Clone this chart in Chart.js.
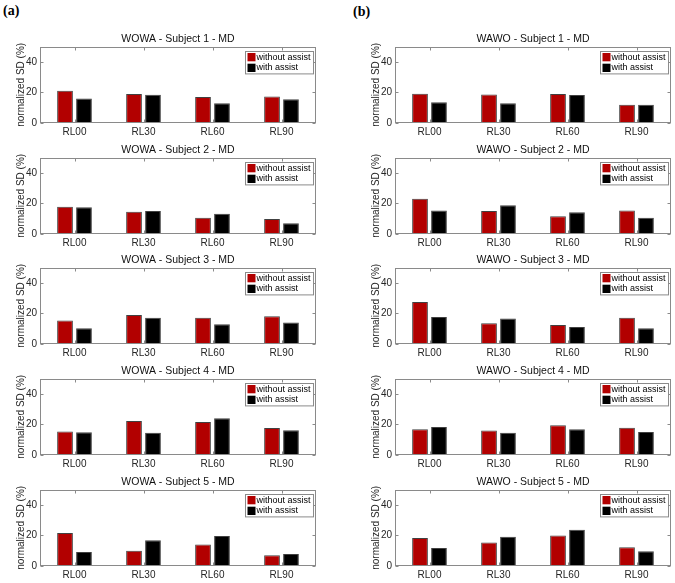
<!DOCTYPE html>
<html><head><meta charset="utf-8">
<script src="https://cdn.jsdelivr.net/npm/chart.js@4.4.1/dist/chart.umd.min.js"></script>
<style>
html,body{margin:0;padding:0;background:#fff;}
#wrap{position:relative;width:675px;height:583px;overflow:hidden;background:#fff;}
.panel{position:absolute;}
.tag{position:absolute;font-family:"Liberation Serif","DejaVu Serif",serif;font-weight:bold;font-size:14px;line-height:14px;color:#000;}
</style></head><body><div id="wrap">
<div class="tag" style="left:3px;top:4px">(a)</div>
<div class="tag" style="left:353px;top:5px">(b)</div>
</div>
<script>
const categories = ['RL00','RL30','RL60','RL90'];
const seriesNames = ['without assist','with assist'];
const yTickValues = [0,20,40];
const yAxisTitle = 'normalized SD (%)';

const wowa1Without = [21.1, 18.9, 17.0, 17.4];
const wowa1With    = [16.1, 18.5, 13.0, 15.6];
const wowa2Without = [17.9, 14.6, 10.7, 9.8];
const wowa2With    = [17.5, 15.0, 13.3, 7.0];
const wowa3Without = [15.4, 18.9, 17.1, 18.2];
const wowa3With    = [10.3, 17.1, 13.0, 14.1];
const wowa4Without = [15.3, 22.3, 21.6, 17.7];
const wowa4With    = [14.9, 14.6, 24.0, 16.2];
const wowa5Without = [21.6, 10.0, 14.0, 7.0];
const wowa5With    = [9.2, 16.8, 19.7, 7.9];

const wawo1Without = [19.1, 18.7, 19.0, 12.0];
const wawo1With    = [13.5, 13.0, 18.3, 12.0];
const wawo2Without = [23.0, 15.1, 11.6, 15.3];
const wawo2With    = [15.3, 18.8, 14.2, 10.7];
const wawo3Without = [27.5, 13.6, 12.5, 17.1];
const wawo3With    = [17.6, 16.7, 11.2, 10.3];
const wawo4Without = [16.8, 16.0, 19.5, 17.9];
const wawo4With    = [18.4, 14.6, 16.8, 15.1];
const wawo5Without = [18.4, 15.3, 19.9, 12.2];
const wawo5With    = [11.8, 19.2, 23.8, 9.6];

const wowaTitles = ['WOWA - Subject 1 - MD','WOWA - Subject 2 - MD','WOWA - Subject 3 - MD','WOWA - Subject 4 - MD','WOWA - Subject 5 - MD'];
const wawoTitles = ['WAWO - Subject 1 - MD','WAWO - Subject 2 - MD','WAWO - Subject 3 - MD','WAWO - Subject 4 - MD','WAWO - Subject 5 - MD'];

const panels = [
  {col:0,row:0,title:wowaTitles[0],a:wowa1Without,b:wowa1With},
  {col:0,row:1,title:wowaTitles[1],a:wowa2Without,b:wowa2With},
  {col:0,row:2,title:wowaTitles[2],a:wowa3Without,b:wowa3With},
  {col:0,row:3,title:wowaTitles[3],a:wowa4Without,b:wowa4With},
  {col:0,row:4,title:wowaTitles[4],a:wowa5Without,b:wowa5With},
  {col:1,row:0,title:wawoTitles[0],a:wawo1Without,b:wawo1With},
  {col:1,row:1,title:wawoTitles[1],a:wawo2Without,b:wawo2With},
  {col:1,row:2,title:wawoTitles[2],a:wawo3Without,b:wawo3With},
  {col:1,row:3,title:wawoTitles[3],a:wawo4Without,b:wawo4With},
  {col:1,row:4,title:wawoTitles[4],a:wawo5Without,b:wawo5With}
];

const FONT = '"Liberation Sans", Arial, Helvetica, sans-serif';
Chart.defaults.font.family = FONT;
Chart.defaults.color = '#262626';

const colLeft = [0, 355];
const rowBottom = [123, 234, 344, 455, 566];
const CW = 320, CH = 116, AXIS_H = 20;

const framePlugin = {
  id: 'frame',
  afterDraw(chart) {
    const {ctx, chartArea: a, scales} = chart;
    ctx.save();
    ctx.strokeStyle = '#8a8a8a';
    ctx.lineWidth = 1;
    const L = Math.round(a.left) + 0.5, R = Math.round(a.right) - 0.5;
    const T = Math.round(a.top) + 0.5, B = Math.round(a.bottom) - 0.5;
    ctx.strokeRect(L, T, R - L, B - T);
    ctx.beginPath();
    scales.y.ticks.forEach(t => {
      const y = Math.round(scales.y.getPixelForValue(t.value)) + 0.5;
      ctx.moveTo(L, y); ctx.lineTo(L + 3, y);
      ctx.moveTo(R, y); ctx.lineTo(R - 3, y);
    });
    scales.x.ticks.forEach((t, i) => {
      const x = Math.round(scales.x.getPixelForTick(i)) + 0.5;
      ctx.moveTo(x, B); ctx.lineTo(x, B - 3);
      ctx.moveTo(x, T); ctx.lineTo(x, T + 3);
    });
    ctx.stroke();

    // legend box
    ctx.font = '9px ' + FONT;
    const ds = chart.data.datasets;
    const tw = Math.max(...ds.map(d => ctx.measureText(d.label).width));
    const sw = 8, lh = 10.7;
    const bw = 2 + sw + 1 + tw + 3;
    const bh = 2 * lh + 1;
    const bx = Math.round(a.right - 3 - bw) + 0.5, by = Math.round(a.top + 4) + 0.5;
    ctx.fillStyle = '#fff';
    ctx.fillRect(bx, by, bw, bh);
    ctx.strokeStyle = '#8a8a8a';
    ctx.strokeRect(bx, by, bw, bh);
    ds.forEach((d, i) => {
      const sy = by + 1.5 + i * lh;
      ctx.fillStyle = d.backgroundColor;
      ctx.fillRect(bx + 2, sy, sw, 8.3);
      ctx.fillStyle = '#000';
      ctx.textBaseline = 'middle';
      ctx.textAlign = 'left';
      ctx.fillText(d.label, bx + 2 + sw + 1, sy + 4.3);
    });
    ctx.restore();
  }
};

const wrap = document.getElementById('wrap');
panels.forEach(p => {
  const div = document.createElement('div');
  div.className = 'panel';
  div.style.left = colLeft[p.col] + 'px';
  div.style.top = (rowBottom[p.row] - (CH - AXIS_H)) + 'px';
  div.style.width = CW + 'px';
  div.style.height = CH + 'px';
  const cv = document.createElement('canvas');
  cv.width = CW; cv.height = CH;
  cv.style.width = CW + 'px'; cv.style.height = CH + 'px';
  div.appendChild(cv);
  wrap.appendChild(div);

  new Chart(cv, {
    type: 'bar',
    data: {
      labels: categories,
      datasets: [
        {label: seriesNames[0], data: p.a, backgroundColor: 'rgb(178,0,0)', borderColor: 'rgba(30,30,30,0.85)', borderWidth: 1, categoryPercentage: 0.55, barPercentage: 0.83},
        {label: seriesNames[1], data: p.b, backgroundColor: '#000000', borderColor: 'rgba(30,30,30,0.85)', borderWidth: 1, categoryPercentage: 0.55, barPercentage: 0.83}
      ]
    },
    options: {
      responsive: false,
      animation: false,
      devicePixelRatio: 1,
      layout: {padding: {left: 0, right: 4, top: 0, bottom: 0}},
      plugins: {
        legend: {display: false},
        tooltip: {enabled: false},
        title: {
          display: true, text: p.title, fullSize: false,
          color: '#111', font: {size: 10.5, weight: 'normal', lineHeight: 1.2},
          padding: {top: 6, bottom: 1}
        }
      },
      scales: {
        x: {
          type: 'category',
          grid: {display: false, drawTicks: false},
          border: {display: false},
          ticks: {font: {size: 10}, color: '#262626', padding: 3, maxRotation: 0, autoSkip: false},
          afterFit: s => { s.height = AXIS_H; }
        },
        y: {
          min: 0, max: 50,
          grid: {display: false, drawTicks: false},
          border: {display: false},
          ticks: {font: {size: 10}, color: '#262626', padding: 3},
          afterBuildTicks: s => { s.ticks = yTickValues.map(v => ({value: v})); },
          title: {display: true, text: yAxisTitle, font: {size: 10}, color: '#262626', padding: {top: 15, bottom: 0}},
          afterFit: s => { s.width = 40; }
        }
      }
    },
    plugins: [framePlugin]
  });
});
</script>
</body></html>
